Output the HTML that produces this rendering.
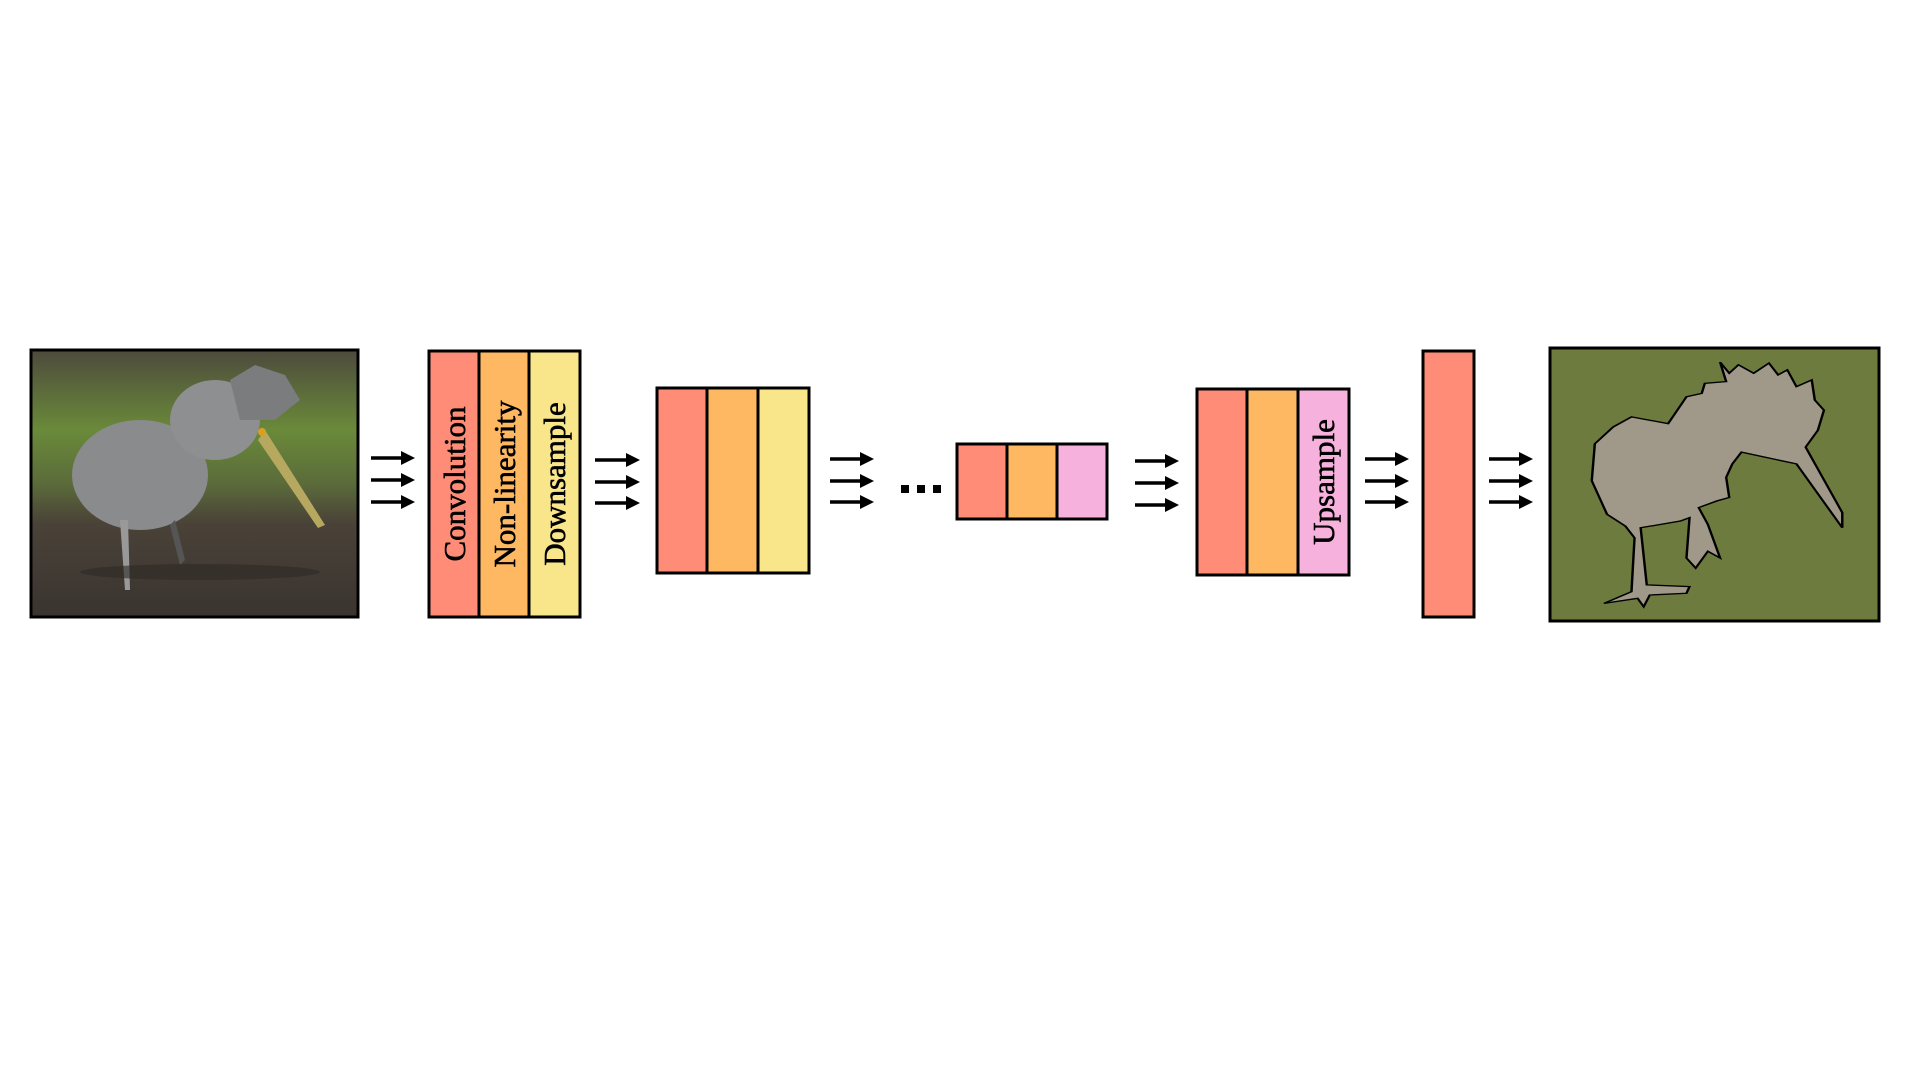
<!DOCTYPE html>
<html><head><meta charset="utf-8"><style>
html,body{margin:0;padding:0;background:#fff;}
svg{display:block;}
text{font-family:"Liberation Serif",serif;}
</style></head><body>
<svg width="1920" height="1080" viewBox="0 0 1920 1080" xmlns="http://www.w3.org/2000/svg">
<defs>
<marker id="ah" markerWidth="4" markerHeight="4" refX="2" refY="2" orient="auto" markerUnits="strokeWidth"><path d="M0,0 L4,2 L0,4 z" fill="#000"/></marker>
<linearGradient id="bg" x1="0" y1="0" x2="0" y2="1">
<stop offset="0" stop-color="#4d4a3c"/><stop offset="0.3" stop-color="#6a8a3a"/><stop offset="0.5" stop-color="#5b6b3a"/><stop offset="0.65" stop-color="#4a4238"/><stop offset="1" stop-color="#3a3430"/></linearGradient>
</defs>

<g>
<rect x="31" y="350" width="327" height="267" fill="url(#bg)" stroke="#000" stroke-width="3"/>
<ellipse cx="140" cy="475" rx="68" ry="55" fill="#8a8b8c"/>
<ellipse cx="215" cy="420" rx="45" ry="40" fill="#8d8f91"/>
<path d="M230,380 L255,365 L285,375 L300,400 L275,420 L240,420 z" fill="#7a7c7e"/>
<path d="M265,430 L325,525 L318,528 L258,440 z" fill="#b7a860"/>
<circle cx="262" cy="432" r="4" fill="#d9a020"/>
<path d="M120,520 L125,590 L130,590 L128,520 z" fill="#999"/>
<path d="M175,520 L185,560 L180,565 L170,525 z" fill="#555"/>
<ellipse cx="200" cy="572" rx="120" ry="8" fill="#2d2925" opacity="0.6"/>
</g>

<g stroke="#000" stroke-width="3.5" marker-end="url(#ah)">
<line x1="371" y1="458" x2="408" y2="458"/><line x1="371" y1="480" x2="408" y2="480"/><line x1="371" y1="502" x2="408" y2="502"/></g>

<g stroke="#000" stroke-width="3">
<rect x="429" y="351" width="50" height="266" fill="#fe8c76"/>
<rect x="479" y="351" width="50" height="266" fill="#feb862"/>
<rect x="529" y="351" width="51" height="266" fill="#f9e58a"/>
</g>
<g stroke="#000" stroke-width="0.6">
<text transform="translate(465,484) rotate(-90)" text-anchor="middle" font-size="31">Convolution</text>
<text transform="translate(515,484) rotate(-90)" text-anchor="middle" font-size="31">Non-linearity</text>
<text transform="translate(565,484) rotate(-90)" text-anchor="middle" font-size="31">Downsample</text>
</g>

<g stroke="#000" stroke-width="3.5" marker-end="url(#ah)">
<line x1="595" y1="460" x2="633" y2="460"/><line x1="595" y1="482" x2="633" y2="482"/><line x1="595" y1="503" x2="633" y2="503"/></g>

<g stroke="#000" stroke-width="3">
<rect x="657" y="388" width="50" height="185" fill="#fe8c76"/>
<rect x="707" y="388" width="51" height="185" fill="#feb862"/>
<rect x="758" y="388" width="51" height="185" fill="#f9e58a"/>
</g>

<g stroke="#000" stroke-width="3.5" marker-end="url(#ah)">
<line x1="830" y1="459" x2="867" y2="459"/><line x1="830" y1="481" x2="867" y2="481"/><line x1="830" y1="502" x2="867" y2="502"/></g>

<g fill="#000">
<rect x="901" y="485" width="8" height="8"/><rect x="917" y="485" width="8" height="8"/><rect x="933" y="485" width="8" height="8"/></g>

<g stroke="#000" stroke-width="3">
<rect x="957" y="444" width="50" height="75" fill="#fe8c76"/>
<rect x="1007" y="444" width="50" height="75" fill="#feb862"/>
<rect x="1057" y="444" width="50" height="75" fill="#f6b2dc"/>
</g>

<g stroke="#000" stroke-width="3.5" marker-end="url(#ah)">
<line x1="1135" y1="461" x2="1172" y2="461"/><line x1="1135" y1="483" x2="1172" y2="483"/><line x1="1135" y1="505" x2="1172" y2="505"/></g>

<g stroke="#000" stroke-width="3">
<rect x="1197" y="389" width="50" height="186" fill="#fe8c76"/>
<rect x="1247" y="389" width="51" height="186" fill="#feb862"/>
<rect x="1298" y="389" width="51" height="186" fill="#f6b2dc"/>
</g>
<text stroke="#000" stroke-width="0.6" transform="translate(1334,482) rotate(-90)" text-anchor="middle" font-size="31">Upsample</text>

<g stroke="#000" stroke-width="3.5" marker-end="url(#ah)">
<line x1="1365" y1="459" x2="1402" y2="459"/><line x1="1365" y1="481" x2="1402" y2="481"/><line x1="1365" y1="502" x2="1402" y2="502"/></g>

<rect x="1423" y="351" width="51" height="266" fill="#fe8c76" stroke="#000" stroke-width="3"/>

<g stroke="#000" stroke-width="3.5" marker-end="url(#ah)">
<line x1="1489" y1="459" x2="1526" y2="459"/><line x1="1489" y1="481" x2="1526" y2="481"/><line x1="1489" y1="502" x2="1526" y2="502"/></g>

<g>
<rect x="1550" y="348" width="329" height="273" fill="#6e7b3f" stroke="#000" stroke-width="3"/>
<polygon transform="translate(1549,347) scale(0.611,0.336) translate(-955,-52)" fill="#a09888" stroke="#000" stroke-width="4" points="1235,97 1250,130 1265,105 1290,130 1315,100 1330,135 1345,120 1360,170 1385,150 1390,210 1405,240 1395,300 1375,350 1435,545 1435,590 1360,400 1270,365 1255,400 1245,440 1250,500 1230,510 1200,530 1215,580 1235,680 1215,660 1195,710 1180,680 1185,560 1170,570 1105,590 1115,760 1185,765 1180,785 1120,790 1110,825 1100,800 1045,815 1090,780 1095,620 1080,585 1050,550 1025,450 1030,340 1060,290 1090,260 1150,280 1180,200 1205,190 1210,160 1245,155"/>
</g>
</svg>
</body></html>
